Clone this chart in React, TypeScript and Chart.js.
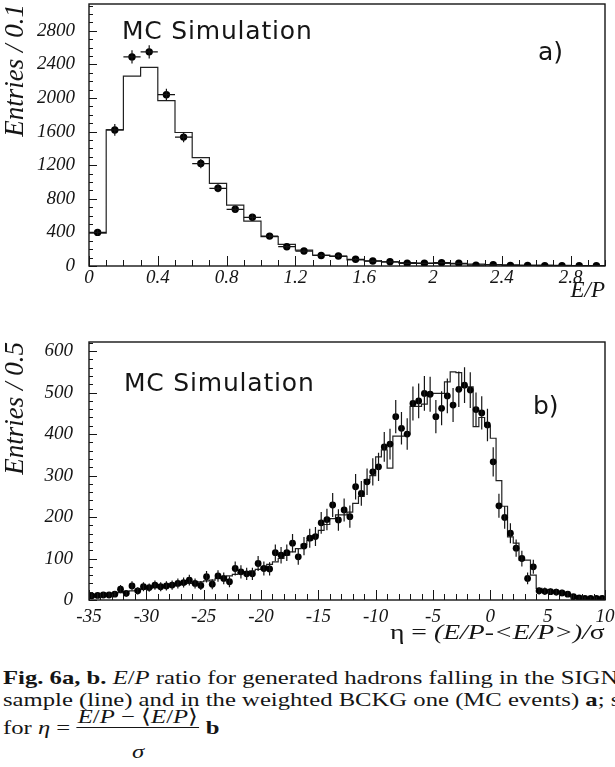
import React, { useEffect, useRef } from "react";
import { Chart, registerables } from "chart.js";

Chart.register(...registerables);

// ---------- Panel a) : E/P, bins of 0.1 from 0 to 3 ----------
const epBinStart = 0;
const epBinWidth = 0.1;
// SIGNAL sample (histogram line)
const epSignal = [390, 1620, 2260, 2365, 1970, 1590, 1290, 985, 725, 535, 350, 258, 190, 130, 115, 72, 60, 48, 40, 35, 32, 26, 22, 18, 14, 12, 10, 8, 6, 5];
// weighted BCKG sample (points)
const epBckg = [400, 1620, 2490, 2550, 2040, 1535, 1220, 925, 675, 580, 356, 230, 178, 125, 119, 80, 59, 50, 32, 32, 40, 32, 10, 14, 8, 6, 5, 4, 4, 4];
const epBckgErr = [35, 70, 80, 80, 70, 60, 55, 48, 40, 38, 30, 25, 22, 18, 18, 15, 12, 11, 9, 9, 10, 9, 5, 6, 4, 4, 3, 3, 3, 3];
const epXTicks = [0, 0.4, 0.8, 1.2, 1.6, 2, 2.4, 2.8];
const epYTicks = [0, 400, 800, 1200, 1600, 2000, 2400, 2800];

// ---------- Panel b) : eta, bins of 0.5 from -35 to 10 ----------
const etaBinStart = -35;
const etaBinWidth = 0.5;
const etaSignal = [
  8, 10, 12, 14, 16, 18, 20, 22, 24, 26,
  28, 30, 31, 32, 34, 36, 38, 40, 42, 44,
  46, 48, 52, 55, 58, 62, 66, 68, 70, 74,
  80, 86, 92, 100, 108, 116, 124, 134, 144, 156,
  168, 182, 196, 205, 205, 212, 233, 250, 290, 300,
  345, 362, 318, 395, 395, 400, 467, 467, 472, 498,
  498, 498, 526, 550, 548, 514, 514, 418, 440, 420,
  390, 288, 226, 152, 137, 96, 96, 60, 28, 24,
  22, 20, 18, 15, 10, 7, 5, 4, 4, 4,
];
const etaBckg = [
  10, 11, 12, 12, 14, 26, 16, 34, 22, 32,
  30, 36, 32, 34, 36, 40, 42, 48, 40, 35,
  56, 38, 58, 52, 44, 76, 68, 63, 63, 88,
  76, 75, 114, 108, 114, 137, 104, 130, 149, 153,
  186, 194, 229, 193, 217, 201, 273, 257, 285, 309,
  321, 369, 376, 442, 414, 400, 474, 480, 498, 496,
  442, 462, 492, 470, 508, 518, 506, 459, 451, 422,
  333, 227, 199, 161, 125, 100, 52, 80, 22, 21,
  20, 19, 17, 14, 8, 5, 4, 4, 4, 4,
];
const etaBckgErr = [
  6, 6, 7, 7, 7, 10, 8, 11, 9, 11,
  10, 11, 11, 11, 11, 12, 12, 13, 12, 11,
  14, 12, 14, 14, 13, 17, 16, 15, 15, 18,
  17, 16, 20, 20, 20, 22, 19, 22, 23, 23,
  26, 26, 29, 26, 28, 27, 31, 30, 32, 33,
  34, 36, 37, 40, 39, 38, 41, 42, 42, 42,
  40, 41, 42, 41, 43, 43, 43, 41, 40, 39,
  35, 29, 27, 24, 21, 19, 14, 17, 9, 9,
  8, 8, 8, 7, 5, 4, 4, 4, 4, 4,
];
const etaXTicks = [-35, -30, -25, -20, -15, -10, -5, 0, 5, 10];
const etaYTicks = [0, 100, 200, 300, 400, 500, 600];

const INK = "#151515";

type TickOpts = {
  xMinor: number; xMajor: number; yMinor: number; yMajor: number;
  xMajorLen: number; xMinorLen: number; yMajorLen: number; yMinorLen: number;
};

const isMultiple = (v: number, step: number) => Math.abs(v / step - Math.round(v / step)) < 1e-6;

const frameTicks = {
  id: "frameTicks",
  afterDraw(chart: any, _args: any, opts: TickOpts) {
    const { ctx, chartArea: a, scales } = chart;
    const x = scales.x, y = scales.y;
    ctx.save();
    ctx.strokeStyle = INK;
    ctx.lineWidth = 1.4;
    ctx.strokeRect(a.left, a.top, a.right - a.left, a.bottom - a.top);
    ctx.lineWidth = 1;
    ctx.beginPath();
    const nx = Math.round((x.max - x.min) / opts.xMinor);
    for (let i = 0; i <= nx; i++) {
      const v = x.min + i * opts.xMinor;
      const px = Math.round(x.getPixelForValue(v)) + 0.5;
      const len = isMultiple(v, opts.xMajor) ? opts.xMajorLen : opts.xMinorLen;
      ctx.moveTo(px, a.bottom);
      ctx.lineTo(px, a.bottom - len);
    }
    const ny = Math.floor((y.max - y.min) / opts.yMinor + 1e-6);
    for (let i = 0; i <= ny; i++) {
      const v = y.min + i * opts.yMinor;
      const py = Math.round(y.getPixelForValue(v)) + 0.5;
      const len = isMultiple(v, opts.yMajor) ? opts.yMajorLen : opts.yMinorLen;
      ctx.moveTo(a.left, py);
      ctx.lineTo(a.left + len, py);
    }
    ctx.stroke();
    ctx.restore();
  },
};

const errorBars = {
  id: "errorBars",
  afterDatasetsDraw(chart: any) {
    const { ctx, scales } = chart;
    const x = scales.x, y = scales.y;
    ctx.save();
    ctx.strokeStyle = INK;
    ctx.lineWidth = 1.2;
    chart.data.datasets.forEach((ds: any) => {
      if (!ds.yErr) return;
      ctx.beginPath();
      ds.data.forEach((p: any, i: number) => {
        const px = x.getPixelForValue(p.x);
        const e = ds.yErr[i];
        ctx.moveTo(px, y.getPixelForValue(p.y - e));
        ctx.lineTo(px, y.getPixelForValue(p.y + e));
        if (ds.xErr) {
          const py = y.getPixelForValue(p.y);
          ctx.moveTo(x.getPixelForValue(p.x - ds.xErr), py);
          ctx.lineTo(x.getPixelForValue(p.x + ds.xErr), py);
        }
      });
      ctx.stroke();
    });
    ctx.restore();
  },
};

function histPoints(values: number[], start: number, width: number) {
  const pts = values.map((v, i) => ({ x: start + i * width, y: v }));
  pts.push({ x: start + values.length * width, y: values[values.length - 1] });
  return pts;
}
function centerPoints(values: number[], start: number, width: number) {
  return values.map((v, i) => ({ x: start + (i + 0.5) * width, y: v }));
}

const tickFont = { family: '"Liberation Serif", "Times New Roman", serif', style: "italic" as const, size: 19 };
const xTitleFont = { family: '"Liberation Serif", "Times New Roman", serif', style: "italic" as const, size: 23 };
const yTitleFont = { family: '"Liberation Serif", "Times New Roman", serif', style: "italic" as const, size: 27, lineHeight: 1 };

function makeConfig(p: {
  signal: number[]; bckg: number[]; err: number[]; start: number; width: number;
  xMin: number; xMax: number; xTicks: number[]; yMax: number; yTicks: number[];
  padTop: number; xHeight: number; xTickPad: number; yTickPad: number;
  xTitle: string | null; yTitle: string; radius: number; xErr: number | null;
  ticks: TickOpts;
}): any {
  const fmt = (v: number) => String(Math.round(v * 10) / 10);
  return {
    type: "scatter",
    data: {
      datasets: [
        {
          type: "line",
          data: histPoints(p.signal, p.start, p.width),
          stepped: "before",
          borderColor: "#222",
          borderWidth: 1.2,
          pointRadius: 0,
          fill: false,
          order: 2,
        },
        {
          type: "scatter",
          data: centerPoints(p.bckg, p.start, p.width),
          yErr: p.err,
          xErr: p.xErr,
          pointRadius: p.radius,
          pointBackgroundColor: "#000",
          pointBorderWidth: 0,
          borderWidth: 0,
          order: 1,
        },
      ],
    },
    options: {
      animation: false,
      responsive: false,
      maintainAspectRatio: false,
      events: [],
      layout: { padding: { top: p.padTop, right: 10, left: 0, bottom: 0 } },
      plugins: {
        legend: { display: false },
        tooltip: { enabled: false },
        frameTicks: p.ticks,
      },
      scales: {
        x: {
          type: "linear",
          min: p.xMin,
          max: p.xMax,
          afterBuildTicks: (s: any) => { s.ticks = p.xTicks.map((v) => ({ value: v })); },
          afterFit: (s: any) => { s.height = p.xHeight; s.paddingLeft = 0; s.paddingRight = 0; },
          grid: { display: false, drawTicks: false },
          border: { display: false },
          ticks: {
            autoSkip: false,
            maxRotation: 0,
            padding: p.xTickPad,
            color: INK,
            font: tickFont,
            callback: (v: number) => fmt(v),
          },
          title: p.xTitle
            ? { display: true, text: p.xTitle, align: "end", color: INK, font: xTitleFont, padding: { top: 0, bottom: 0 } }
            : { display: false },
        },
        y: {
          type: "linear",
          min: 0,
          max: p.yMax,
          afterBuildTicks: (s: any) => { s.ticks = p.yTicks.map((v) => ({ value: v })); },
          afterFit: (s: any) => { s.width = 89; s.paddingTop = 0; s.paddingBottom = 0; },
          grid: { display: false, drawTicks: false },
          border: { display: false },
          ticks: {
            autoSkip: false,
            padding: p.yTickPad,
            color: INK,
            font: tickFont,
            callback: (v: number) => fmt(v),
          },
          title: { display: true, text: p.yTitle, align: "end", color: INK, font: yTitleFont, padding: { top: 2, bottom: 0 } },
        },
      },
    },
    plugins: [frameTicks, errorBars],
  };
}

const annoFont = '"DejaVu Sans", Verdana, sans-serif';

export default function App() {
  const topRef = useRef<HTMLCanvasElement>(null);
  const botRef = useRef<HTMLCanvasElement>(null);

  useEffect(() => {
    const top = new Chart(
      topRef.current as HTMLCanvasElement,
      makeConfig({
        signal: epSignal, bckg: epBckg, err: epBckgErr, start: epBinStart, width: epBinWidth,
        xMin: 0, xMax: 3, xTicks: epXTicks, yMax: 3120, yTicks: epYTicks,
        padTop: 3, xHeight: 39, xTickPad: 1, yTickPad: 14,
        xTitle: "E/P", yTitle: "Entries / 0.1", radius: 3.7, xErr: epBinWidth / 2,
        ticks: { xMinor: 0.1, xMajor: 0.4, yMinor: 100, yMajor: 400, xMajorLen: 10, xMinorLen: 6, yMajorLen: 8, yMinorLen: 4 },
      })
    );
    const bot = new Chart(
      botRef.current as HTMLCanvasElement,
      makeConfig({
        signal: etaSignal, bckg: etaBckg, err: etaBckgErr, start: etaBinStart, width: etaBinWidth,
        xMin: -35, xMax: 10, xTicks: etaXTicks, yMax: 622, yTicks: etaYTicks,
        padTop: 37, xHeight: 40, xTickPad: 6, yTickPad: 16,
        xTitle: null, yTitle: "Entries / 0.5", radius: 3.4, xErr: null,
        ticks: { xMinor: 1, xMajor: 5, yMinor: 20, yMajor: 100, xMajorLen: 10, xMinorLen: 6, yMajorLen: 8, yMinorLen: 4 },
      })
    );
    return () => {
      top.destroy();
      bot.destroy();
    };
  }, []);

  const serif = '"Liberation Serif", "Times New Roman", serif';
  const anno: React.CSSProperties = {
    position: "absolute", fontFamily: annoFont, fontSize: 25, lineHeight: "25px",
    color: INK, whiteSpace: "nowrap", letterSpacing: 0.8,
  };

  return (
    <div style={{ position: "fixed", left: 0, top: 0, width: 615, height: 767, background: "#fff", overflow: "hidden" }}>
      <canvas ref={topRef} width={615} height={305} style={{ position: "absolute", left: 0, top: 0 }} />
      <canvas ref={botRef} width={615} height={335} style={{ position: "absolute", left: 0, top: 305 }} />

      <div style={{ ...anno, left: 122, top: 18 }}>MC Simulation</div>
      <div style={{ ...anno, left: 538, top: 39, letterSpacing: 0 }}>a)</div>
      <div style={{ ...anno, left: 124, top: 370 }}>MC Simulation</div>
      <div style={{ ...anno, left: 533, top: 393, letterSpacing: 0 }}>b)</div>

      <div
        style={{
          position: "absolute", right: 10, top: 620, fontFamily: serif, fontSize: 21, lineHeight: "24px",
          color: INK, whiteSpace: "nowrap", transform: "scaleX(1.32)", transformOrigin: "right top",
        }}
      >
        <span>η = </span><i>(E/P-&lt;E/P&gt;)/</i><span>σ</span>
      </div>

      <div
        style={{
          position: "absolute", left: 3, top: 667, fontFamily: serif, fontSize: 19.5, lineHeight: "22px",
          color: INK, whiteSpace: "nowrap", transform: "scaleX(1.265)", transformOrigin: "left top",
        }}
      >
        <div><b>Fig. 6a, b.</b> <i>E</i>/<i>P</i> ratio for generated hadrons falling in the SIGNAL</div>
        <div>sample (line) and in the weighted BCKG one (MC events) <b>a</b>; same</div>
        <div style={{ display: "flex", alignItems: "flex-start", marginTop: -4, height: 70 }}>
          <span style={{ marginTop: 10, lineHeight: "22px" }}>for <i>η</i> =&nbsp;</span>
          <span style={{ display: "inline-flex", flexDirection: "column", alignItems: "center" }}>
            <span style={{ borderBottom: "1px solid #151515", lineHeight: "20px", padding: "0 1px" }}>
              <i>E</i>/<i>P</i> − ⟨<i>E</i>/<i>P</i>⟩
            </span>
            <span style={{ lineHeight: "20px", paddingTop: 14 }}><i>σ</i></span>
          </span>
          <span style={{ marginTop: 10, lineHeight: "22px" }}>&nbsp;<b>b</b></span>
        </div>
      </div>
    </div>
  );
}
